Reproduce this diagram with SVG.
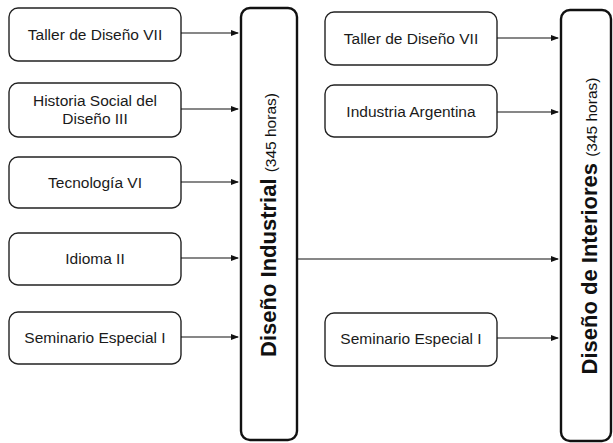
<svg xmlns="http://www.w3.org/2000/svg" width="613" height="443" viewBox="0 0 613 443">
<defs>
<marker id="ah" markerWidth="8" markerHeight="6" refX="7" refY="3" orient="auto" markerUnits="userSpaceOnUse">
<path d="M0,0 L8,3 L0,6 Z" fill="#111"/>
</marker>
<style>
.box{fill:#fff;stroke:#222;stroke-width:1.4}
.big{fill:#fff;stroke:#111;stroke-width:2.4}
.t{font-family:"Liberation Sans",Arial,sans-serif;font-size:15.5px;fill:#1a1a1a;text-anchor:middle}
.v{font-family:"Liberation Sans",Arial,sans-serif;font-size:22px;font-weight:bold;fill:#111;text-anchor:middle}
.vs{font-size:15.5px;font-weight:normal}
.c{stroke:#111;stroke-width:1.2;fill:none;marker-end:url(#ah)}
</style>
</defs>
<rect width="613" height="443" fill="#fff"/>
<g id="l1"><rect class="box" x="9" y="8" width="172" height="53" rx="9"/><text class="t" x="95" y="40">Taller de Diseño VII</text></g>
<g id="l2"><rect class="box" x="9" y="83" width="172" height="54" rx="9"/><text class="t" x="95" y="106">Historia Social del</text><text class="t" x="95" y="124">Diseño III</text></g>
<g id="l3"><rect class="box" x="9" y="157" width="172" height="51" rx="9"/><text class="t" x="95" y="188">Tecnología VI</text></g>
<g id="l4"><rect class="box" x="9" y="233" width="172" height="52" rx="9"/><text class="t" x="95" y="264">Idioma II</text></g>
<g id="l5"><rect class="box" x="9" y="312" width="172" height="52" rx="9"/><text class="t" x="95" y="343">Seminario Especial I</text></g>
<g id="di"><rect class="big" x="241" y="8" width="56" height="432" rx="9"/><text class="v" transform="translate(276,225) rotate(-90)">Diseño Industrial <tspan class="vs">(345 horas)</tspan></text></g>
<g id="r1"><rect class="box" x="325" y="12" width="172" height="53" rx="9"/><text class="t" x="411" y="44">Taller de Diseño VII</text></g>
<g id="r2"><rect class="box" x="325" y="85" width="172" height="52" rx="9"/><text class="t" x="411" y="117">Industria Argentina</text></g>
<g id="r3"><rect class="box" x="325" y="313" width="172" height="53" rx="9"/><text class="t" x="411" y="344">Seminario Especial I</text></g>
<g id="dint"><rect class="big" x="561" y="10" width="50" height="431" rx="9"/><text class="v" transform="translate(597,226) rotate(-90)">Diseño de Interiores <tspan class="vs">(345 horas)</tspan></text></g>
<g id="connectors">
<line class="c" x1="181" y1="33" x2="238" y2="33"/>
<line class="c" x1="181" y1="109" x2="238" y2="109"/>
<line class="c" x1="181" y1="182" x2="238" y2="182"/>
<line class="c" x1="181" y1="258" x2="238" y2="258"/>
<line class="c" x1="181" y1="337" x2="238" y2="337"/>
<line class="c" x1="497" y1="38" x2="558" y2="38"/>
<line class="c" x1="497" y1="112" x2="558" y2="112"/>
<line class="c" x1="297" y1="259" x2="558" y2="259"/>
<line class="c" x1="497" y1="338" x2="558" y2="338"/>
</g>
</svg>
